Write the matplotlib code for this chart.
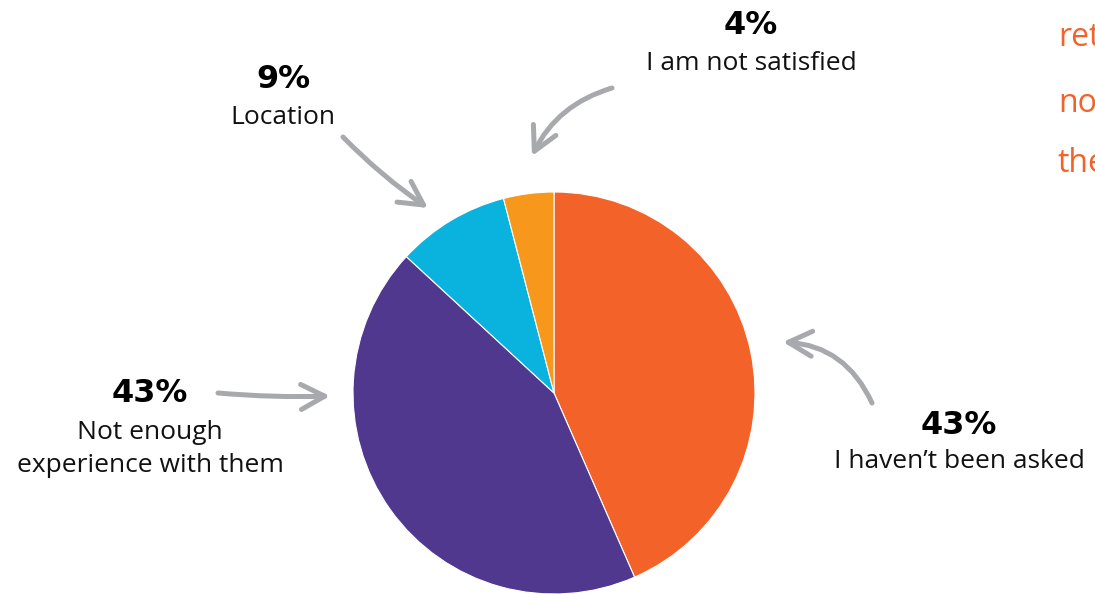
import matplotlib
matplotlib.use("Agg")
import matplotlib.pyplot as plt
from matplotlib.patches import FancyArrowPatch

# Survey answers, drawn clockwise from 12 o'clock
reasons = ["I haven\u2019t been asked", "Not enough\nexperience with them", "Location", "I am not satisfied"]
shares = [43, 43, 9, 4]
colors = ["#F26229", "#51388F", "#0AB3DE", "#F7981D"]
side_words = ["ret", "noc", "the"]

W, H = 1095, 594
fig = plt.figure(figsize=(W / 100, H / 100), dpi=100)
ax = fig.add_axes([0, 0, 1, 1])


def Y(y):
    return H - y


ax.pie(shares, colors=colors, startangle=90, counterclock=False,
       center=(554, Y(393)), radius=201,
       wedgeprops=dict(edgecolor="white", linewidth=0.8))
ax.set_xlim(0, W)
ax.set_ylim(0, H)
ax.set_aspect("equal")
ax.axis("off")

pct_font = dict(family="DejaVu Sans", weight="heavy", fontsize=23, color="black",
                ha="center", va="center")
lab_font = dict(family="Open Sans", fontsize=19, color="#111111",
                ha="center", va="center", linespacing=1.42)

# (x, y of percentage, y of label)
spots = [(959, 425, 462), (150, 393, 449), (283, 80, 117), (751, 26, 63)]
for (x, yp, yl), name, val in zip(spots, reasons, shares):
    ax.text(x, Y(yp), f"{val}%", **pct_font)
    ax.text(x, Y(yl), name, **lab_font)

# Hand-drawn style arrows pointing to the slices
gray = "#A7A9AC"
arrows = [
    ((612, 88), (532, 156), 0.22),
    ((343, 137), (428, 208), 0.05),
    ((218, 393), (330, 396), 0.03),
    ((872, 403), (783, 342), 0.3),
]
for (x0, y0), (x1, y1), rad in arrows:
    ax.add_patch(FancyArrowPatch((x0, Y(y0)), (x1, Y(y1)),
                                 connectionstyle=f"arc3,rad={rad}",
                                 arrowstyle="->,head_length=17,head_width=9",
                                 color=gray, lw=3.6, capstyle="round",
                                 joinstyle="round", shrinkA=0, shrinkB=0))

# Side copy running off the right edge
for word, y in zip(side_words, [38, 103, 163]):
    ax.text(1058, Y(y), word, family="Open Sans", fontsize=23, color="#F26229",
            ha="left", va="center")

fig.savefig("out.png", dpi=100)
